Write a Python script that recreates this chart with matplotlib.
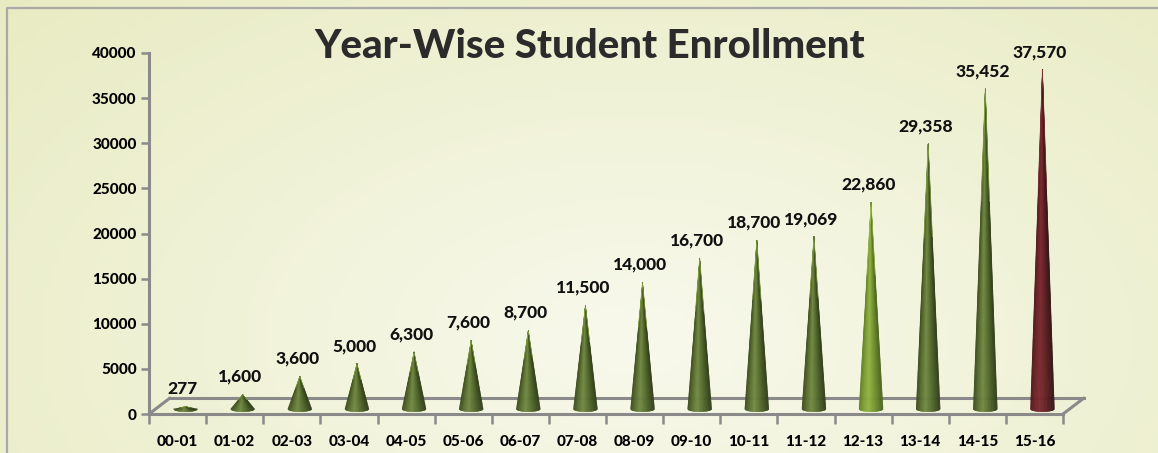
import numpy as np
import matplotlib
matplotlib.use("Agg")
import matplotlib.pyplot as plt
from matplotlib.colors import LinearSegmentedColormap, to_rgb
from matplotlib.collections import PolyCollection
from matplotlib.transforms import ScaledTranslation

# data
years = ["00-01", "01-02", "02-03", "03-04", "04-05", "05-06", "06-07", "07-08",
         "08-09", "09-10", "10-11", "11-12", "12-13", "13-14", "14-15", "15-16"]
enrollment = [277, 1600, 3600, 5000, 6300, 7600, 8700, 11500,
              14000, 16700, 18700, 19069, 22860, 29358, 35452, 37570]
cone_style = ["dark"] * 12 + ["light", "dark", "dark", "red"]

plt.rcParams['font.family'] = ['Lato', 'DejaVu Sans']

fig = plt.figure(figsize=(11.58, 4.53), dpi=100)

# background gradient + border
bg = fig.add_axes([0, 0, 1, 1], zorder=-10)
xx, yy = np.meshgrid(np.linspace(0, 1, 300), np.linspace(0, 1, 120))
d = np.sqrt(((xx - 0.55) / 0.75) ** 2 + ((yy - 0.75) / 1.1) ** 2)
d = np.clip(d, 0, 1)
c_in = np.array(to_rgb("#f8f9ec"))
c_out = np.array(to_rgb("#e8ebc2"))
img = c_in[None, None, :] * (1 - d[..., None]) + c_out[None, None, :] * d[..., None]
bg.imshow(img, extent=[0, 1, 0, 1], aspect="auto", origin="upper")
bg.plot([7 / 1158, 7 / 1158, 1], [0, 1 - 8 / 453, 1 - 8 / 453], color="#a9a9a9", lw=1.6)
bg.set_xlim(0, 1)
bg.set_ylim(0, 1)
bg.axis("off")

# main axes
ax = fig.add_axes([149 / 1158, 1 - 414 / 453, (1063 - 149) / 1158, (414 - 53) / 453])
ax.patch.set_alpha(0)
ax.set_xlim(-0.5, len(years) - 0.5)
ax.set_ylim(0, 40000)

gray = "#8a8a8a"
for s in ["top", "right"]:
    ax.spines[s].set_visible(False)
ax.spines["left"].set_color(gray)
ax.spines["left"].set_linewidth(2.2)
ax.spines["bottom"].set_color(gray)
ax.spines["bottom"].set_linewidth(2.2)

ax.set_yticks(np.arange(0, 40001, 5000))
ax.set_yticklabels([str(v) for v in range(0, 40001, 5000)], fontsize=11, fontweight=900)
ax.tick_params(axis="y", length=6, width=1.8, color=gray, pad=3)
ax.set_xticks(np.arange(-0.5, len(years), 1.0))
ax.set_xticklabels([])
ax.set_xticks(np.arange(len(years)), minor=True)
ax.set_xticklabels(years, minor=True, fontsize=11, fontweight=900)
ax.tick_params(axis="x", which="major", length=7, width=1.8, color=gray)
ax.tick_params(axis="x", which="minor", length=0, pad=15)

# floor (3D depth)
depth = ax.transData + ScaledTranslation(21 / 100, 16 / 100, fig.dpi_scale_trans)
ax.plot([-0.5, len(years) - 0.5], [0, 0], color=gray, lw=2.2, transform=depth, clip_on=False)
for xe in [-0.5, len(years) - 0.5]:
    ax.annotate("", xy=(xe, 0), xycoords=depth, xytext=(xe, 0), textcoords="data",
                arrowprops=dict(arrowstyle="-", color=gray, lw=2.2, shrinkA=0, shrinkB=0))

# cones
cmaps = {
    "dark": LinearSegmentedColormap.from_list("g", ["#3c4a1f", "#5a6f30", "#738a45", "#5d7334", "#465a26", "#333f1c"]),
    "light": LinearSegmentedColormap.from_list("lg", ["#5f7d25", "#7e9f35", "#93b447", "#7d9d36", "#66822b", "#4e6621"]),
    "red": LinearSegmentedColormap.from_list("r", ["#4f1a1d", "#6e2429", "#7c2b30", "#6a2428", "#4d1d20", "#361618"]),
}
tip_edge = {"dark": "#9cbf50", "light": "#b0d060", "red": "#8a3a3f"}

cone_tr = ax.transData + ScaledTranslation(8 / 100, 5 / 100, fig.dpi_scale_trans)
half_w = 0.21
ell = 300
n = 40
t = np.linspace(-1, 1, n + 1)
for i, (v, st) in enumerate(zip(enrollment, cone_style)):
    bx = i + half_w * t
    by = -ell * np.sqrt(np.clip(1 - t ** 2, 0, 1))
    polys = []
    for k in range(n):
        polys.append([(i, v), (bx[k], by[k]), (bx[k + 1], by[k + 1])])
    cols = cmaps[st]((t[:-1] + t[1:]) / 4 + 0.5)
    pc = PolyCollection(polys, facecolors=cols, edgecolors=cols, linewidths=0.3,
                        transform=cone_tr, zorder=3, clip_on=False)
    ax.add_collection(pc)
    ax.plot([i - half_w * 0.35, i, i + half_w * 0.35], [v * 0.65, v, v * 0.65],
            color=tip_edge[st], lw=0.6, alpha=0.7, transform=cone_tr, zorder=4)
    ax.annotate(f"{v:,}", xy=(i, v), xycoords=cone_tr, xytext=(-2, 7), textcoords="offset points",
                ha="center", va="bottom", fontsize=12.5, fontweight=900, color="#111111")

fig.text(590 / 1158, 1 - 47 / 453, "Year-Wise Student Enrollment", ha="center", va="center",
         fontsize=29, fontweight=900, color="#2b2b2b")

fig.savefig("out.png", dpi=100)
